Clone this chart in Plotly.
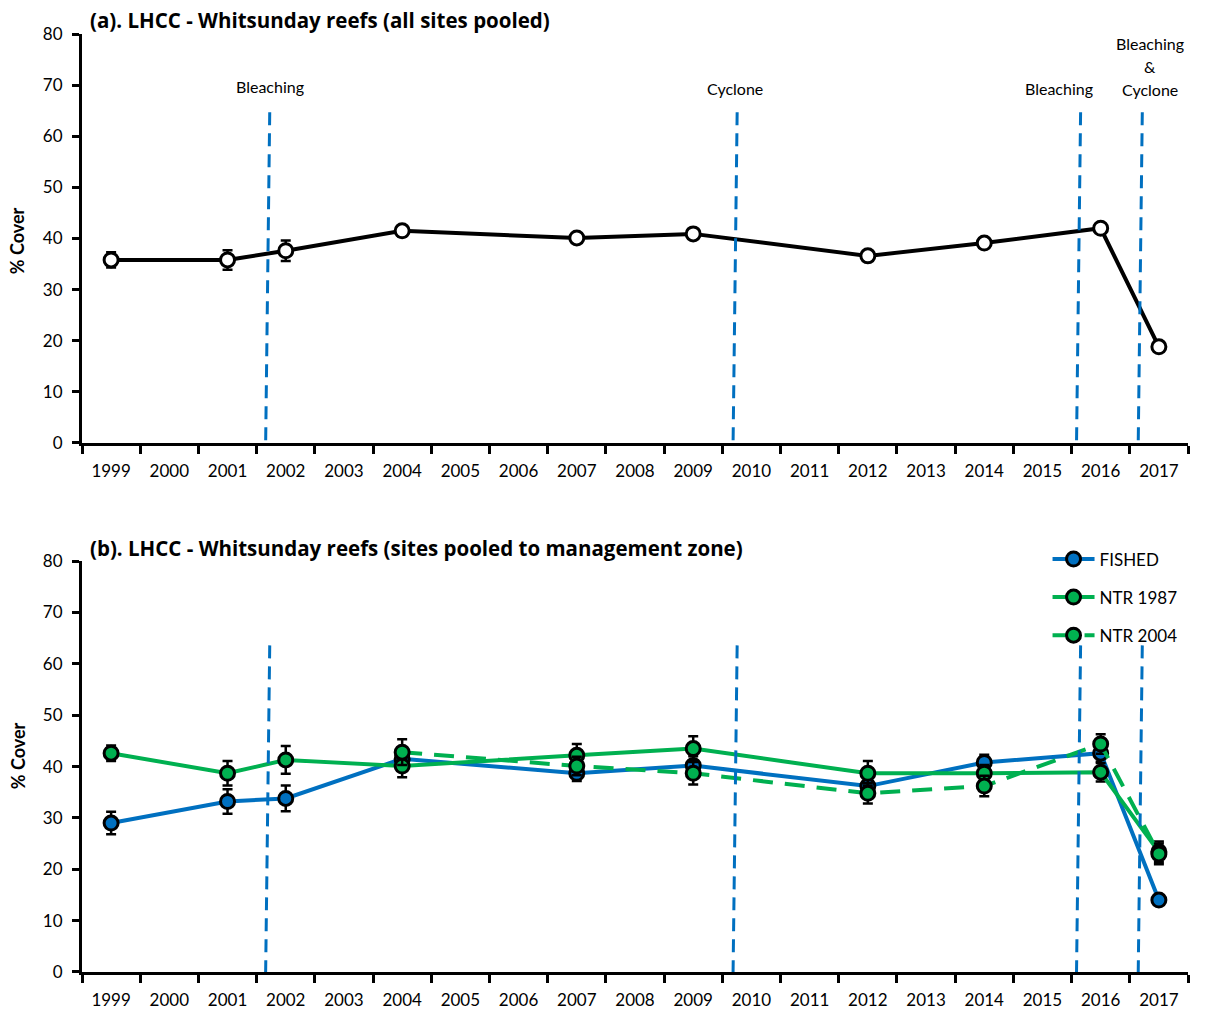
import plotly.graph_objects as go

# ---- data -------------------------------------------------------------
years = [str(y) for y in range(1999, 2018)]

pooled_years = ["1999", "2001", "2002", "2004", "2007", "2009", "2012", "2014", "2016", "2017"]
pooled_cover = [35.8, 35.8, 37.6, 41.5, 40.1, 40.9, 36.6, 39.1, 42.0, 18.8]
pooled_se = [1.5, 1.9, 2.0, 1.1, 0.8, 0.9, 0.7, 0.8, 0.5, 0.5]

fished_years = ["1999", "2001", "2002", "2004", "2007", "2009", "2012", "2014", "2016", "2017"]
fished_cover = [29.0, 33.2, 33.8, 41.5, 38.7, 40.2, 36.2, 40.8, 42.6, 14.0]
fished_se = [2.2, 2.4, 2.5, 2.0, 1.5, 1.8, 1.7, 1.5, 1.6, 0.6]

ntr1987_years = ["1999", "2001", "2002", "2004", "2007", "2009", "2012", "2014", "2016", "2017"]
ntr1987_cover = [42.6, 38.7, 41.3, 40.1, 42.2, 43.5, 38.7, 38.7, 38.9, 23.4]
ntr1987_se = [1.5, 2.4, 2.7, 2.2, 2.2, 2.4, 2.4, 1.6, 1.8, 2.0]

ntr2004_years = ["2004", "2007", "2009", "2012", "2014", "2016", "2017"]
ntr2004_cover = [42.8, 40.1, 38.7, 34.8, 36.2, 44.4, 23.0]
ntr2004_se = [2.5, 1.8, 2.2, 2.0, 2.0, 1.9, 2.0]

# disturbance events (position on the category axis, between survey years)
event_pos = [2.69, 10.72, 16.62, 17.68]
# event captions: one entry per text line (text, x on category axis, y value)
event_text = ["Bleaching", "Cyclone", "Bleaching", "Bleaching", "&", "Cyclone"]
event_text_x = [2.73, 10.72, 16.29, 17.85, 17.85, 17.85]
event_text_y = [69.7, 69.3, 69.3, 78.2, 73.7, 69.2]

BLUE = "#0070C0"
GREEN = "#00B050"
FONT = "Lato"
TITLE_FONT = "Open Sans"

fig = go.Figure()


def err(vals):
    return dict(type="data", array=vals, visible=True, color="black",
                thickness=2.5, width=5)


fig.add_trace(go.Scatter(
    x=pooled_years, y=pooled_cover, error_y=err(pooled_se),
    mode="lines+markers", showlegend=False,
    line=dict(color="black", width=4),
    marker=dict(size=14, color="white", line=dict(color="black", width=3)),
    xaxis="x", yaxis="y"))

for name, xs, ys, se, col, dash in [
    ("FISHED", fished_years, fished_cover, fished_se, BLUE, "solid"),
    ("NTR 1987", ntr1987_years, ntr1987_cover, ntr1987_se, GREEN, "solid"),
    ("NTR 2004", ntr2004_years, ntr2004_cover, ntr2004_se, GREEN, "20px,12px"),
]:
    fig.add_trace(go.Scatter(
        x=xs, y=ys, error_y=err(se), name=name, legendgroup=name,
        mode="lines+markers",
        line=dict(color=col, width=4, dash=dash),
        marker=dict(size=14, color=col, line=dict(color="black", width=3)),
        xaxis="x2", yaxis="y2"))

# vertical dashed event markers in both panels
shapes = []
for xr, yr, top in [("x", "y", 64.7), ("x2", "y2", 63.6)]:
    for p in event_pos:
        shapes.append(dict(type="line", xref=xr, yref=yr,
                           x0=p + 0.035, y0=top, x1=p - 0.035, y1=0,
                           line=dict(color=BLUE, width=3, dash="13px,8px")))

annotations = []
for t, xp, yp in zip(event_text, event_text_x, event_text_y):
    annotations.append(dict(text=t, x=xp, y=yp, xref="x", yref="y",
                            showarrow=False, font=dict(size=16, color="black", family=FONT),
                            xanchor="center", yanchor="middle"))

annotations += [
    dict(text="<b>(a). LHCC - Whitsunday reefs (all sites pooled)</b>",
         xref="paper", yref="paper", x=0.005, y=1.015, xanchor="left", yanchor="middle",
         showarrow=False, font=dict(size=20.5, family=TITLE_FONT, color="black")),
    dict(text="<b>(b). LHCC - Whitsunday reefs (sites pooled to management zone)</b>",
         xref="paper", yref="paper", x=0.005, y=0.452, xanchor="left", yanchor="middle",
         showarrow=False, font=dict(size=20.5, family=TITLE_FONT, color="black")),
    dict(text="<b>% Cover</b>", xref="paper", yref="paper", x=-0.058, y=0.78,
         textangle=-90, showarrow=False, xanchor="center", yanchor="middle",
         font=dict(size=18, family=FONT, color="black")),
    dict(text="<b>% Cover</b>", xref="paper", yref="paper", x=-0.058, y=0.231,
         textangle=-90, showarrow=False, xanchor="center", yanchor="middle",
         font=dict(size=18, family=FONT, color="black")),
]

xaxis_style = dict(type="category", categoryorder="array", categoryarray=years,
                   range=[-0.5, 18.5], tickson="boundaries", ticks="outside",
                   ticklen=8, tickwidth=2.5, tickcolor="black",
                   showline=True, linewidth=3, linecolor="black",
                   showgrid=False, zeroline=False, ticklabelstandoff=11,
                   automargin=False,
                   tickfont=dict(size=17, family=FONT, color="black"))
yaxis_style = dict(range=[0, 80], dtick=10, ticks="outside", ticklen=7,
                   tickwidth=2.5, tickcolor="black", showline=True, linewidth=3,
                   linecolor="black", showgrid=False, zeroline=False,
                   ticklabelstandoff=6, automargin=False,
                   tickfont=dict(size=17, family=FONT, color="black"))

fig.update_layout(
    width=1207, height=1012,
    margin=dict(l=82, r=19, t=34, b=40),
    paper_bgcolor="white", plot_bgcolor="white",
    font=dict(family=FONT, color="black"),
    xaxis=dict(xaxis_style, anchor="y"),
    yaxis=dict(yaxis_style, domain=[0.564, 1.0], anchor="x"),
    xaxis2=dict(xaxis_style, anchor="y2"),
    yaxis2=dict(yaxis_style, domain=[0.0, 0.438], anchor="x2"),
    shapes=shapes, annotations=annotations,
    legend=dict(x=0.873, y=0.459, xanchor="left", yanchor="top",
                font=dict(size=17, family=FONT, color="black"),
                bgcolor="rgba(0,0,0,0)", tracegroupgap=13, itemwidth=42,
                traceorder="grouped"),
)

fig.write_html("out.html")
